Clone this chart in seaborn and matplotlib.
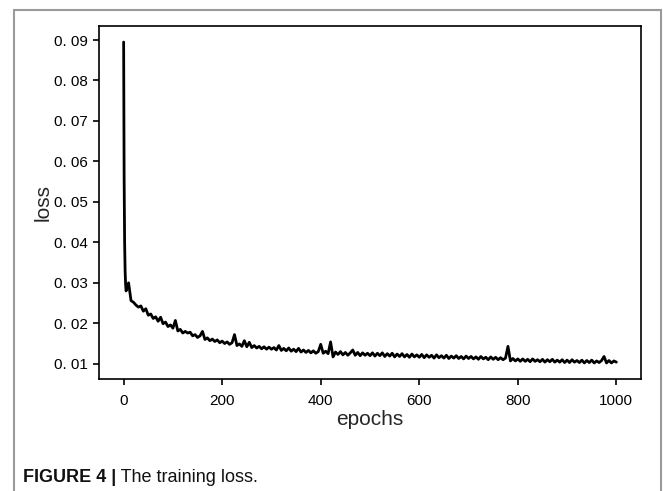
import matplotlib
matplotlib.use("Agg")
import matplotlib.pyplot as plt
from matplotlib.lines import Line2D
import seaborn as sns
import pandas as pd

# ---- data ----
epochs = [0, 1, 2, 3, 4] + list(range(5, 1001, 5))
loss = [
    0.0895, 0.0560, 0.0400, 0.0330, 0.0295,
    # 5 .. 100
    0.0280, 0.0300, 0.0256, 0.0252, 0.0245, 0.0240, 0.0243, 0.0230, 0.0236, 0.0220,
    0.0223, 0.0212, 0.0216, 0.0205, 0.0215, 0.0199, 0.0203, 0.0192, 0.0196, 0.0188,
    # 105 .. 200
    0.0207, 0.0181, 0.0185, 0.0176, 0.0180, 0.0176, 0.0178, 0.0169, 0.0172, 0.0165,
    0.0169, 0.0180, 0.0160, 0.0164, 0.0157, 0.0161, 0.0155, 0.0159, 0.0152, 0.0156,
    # 205 .. 300
    0.0150, 0.0154, 0.0148, 0.0152, 0.0172, 0.0145, 0.0149, 0.0143, 0.0157, 0.0142,
    0.0153, 0.0140, 0.0145, 0.0139, 0.0143, 0.0137, 0.0142, 0.0136, 0.0141, 0.0136,
    # 305 .. 400
    0.0140, 0.0134, 0.0145, 0.0133, 0.0138, 0.0132, 0.0139, 0.0131, 0.0136, 0.0130,
    0.0138, 0.0129, 0.0134, 0.0128, 0.0133, 0.0127, 0.0132, 0.0126, 0.0130, 0.0148,
    # 405 .. 500
    0.0126, 0.0131, 0.0125, 0.0154, 0.0117, 0.0129, 0.0123, 0.0130, 0.0122, 0.0128,
    0.0121, 0.0127, 0.0134, 0.0121, 0.0128, 0.0120, 0.0127, 0.0121, 0.0126, 0.0120,
    # 505 .. 600
    0.0127, 0.0119, 0.0126, 0.0120, 0.0127, 0.0118, 0.0125, 0.0119, 0.0126, 0.0117,
    0.0124, 0.0118, 0.0125, 0.0117, 0.0123, 0.0116, 0.0124, 0.0117, 0.0122, 0.0116,
    # 605 .. 700
    0.0123, 0.0115, 0.0122, 0.0116, 0.0121, 0.0114, 0.0122, 0.0115, 0.0120, 0.0114,
    0.0121, 0.0113, 0.0119, 0.0114, 0.0120, 0.0113, 0.0118, 0.0112, 0.0119, 0.0113,
    # 705 .. 800
    0.0118, 0.0112, 0.0117, 0.0111, 0.0118, 0.0112, 0.0116, 0.0110, 0.0117, 0.0111,
    0.0116, 0.0110, 0.0115, 0.0110, 0.0114, 0.0143, 0.0107, 0.0113, 0.0107, 0.0112,
    # 805 .. 900
    0.0106, 0.0112, 0.0106, 0.0111, 0.0105, 0.0112, 0.0106, 0.0110, 0.0105, 0.0111,
    0.0104, 0.0110, 0.0105, 0.0111, 0.0104, 0.0109, 0.0104, 0.0110, 0.0103, 0.0109,
    # 905 .. 1000
    0.0103, 0.0110, 0.0104, 0.0108, 0.0103, 0.0109, 0.0102, 0.0108, 0.0103, 0.0109,
    0.0102, 0.0107, 0.0103, 0.0108, 0.0118, 0.0102, 0.0108, 0.0102, 0.0107, 0.0104,
]

x_ticks = [0, 200, 400, 600, 800, 1000]
y_ticks = [0.01, 0.02, 0.03, 0.04, 0.05, 0.06, 0.07, 0.08, 0.09]
y_tick_labels = ["0. 01", "0. 02", "0. 03", "0. 04", "0. 05",
                 "0. 06", "0. 07", "0. 08", "0. 09"]
x_label = "epochs"
y_label = "loss"
caption_bold = "FIGURE 4 |"
caption_text = " The training loss."

df = pd.DataFrame({"epochs": epochs, "loss": loss})

# ---- style ----
sns.set_style("ticks")
plt.rcParams["font.family"] = ["Liberation Sans", "DejaVu Sans"]
plt.rcParams["axes.edgecolor"] = "black"
plt.rcParams["axes.linewidth"] = 1.2

W, H = 663, 491
fig = plt.figure(figsize=(W / 100, H / 100), dpi=100)
ax = fig.add_axes([99 / W, 1 - 379 / H, (641 - 99) / W, (379 - 26) / H])

sns.lineplot(data=df, x="epochs", y="loss", ax=ax, color="black",
             linewidth=2.0, estimator=None)

ax.set_xticks(x_ticks)
ax.set_yticks(y_ticks)
ax.set_yticklabels(y_tick_labels)
ax.tick_params(axis="both", labelsize=11, length=4.5, width=1.2,
               colors="black", direction="out")
ax.tick_params(axis="x", pad=6)
ax.set_xlabel(x_label, fontsize=15, labelpad=2)
ax.set_ylabel(y_label, fontsize=15, labelpad=1)
ax.margins(x=0.05, y=0.05)

# outer gray frame of the figure panel
frame_kw = dict(color="#9a9a9a", linewidth=1.5, transform=fig.transFigure)
x0, x1, yt = 13.5 / W, 661 / W, 1 - 10 / H
fig.add_artist(Line2D([x0, x0], [0, yt], **frame_kw))
fig.add_artist(Line2D([x0, x1], [yt, yt], **frame_kw))
fig.add_artist(Line2D([x1, x1], [0, yt], **frame_kw))

# caption
t1 = fig.text(23 / W, 1 - 477 / H, caption_bold, fontsize=13,
              fontweight="bold", va="center", ha="left", color="#111111")
ax.annotate(caption_text, xy=(1, 0), xycoords=t1, va="bottom", ha="left",
            fontsize=13, color="#111111", annotation_clip=False)

fig.savefig("out.png", dpi=100)
